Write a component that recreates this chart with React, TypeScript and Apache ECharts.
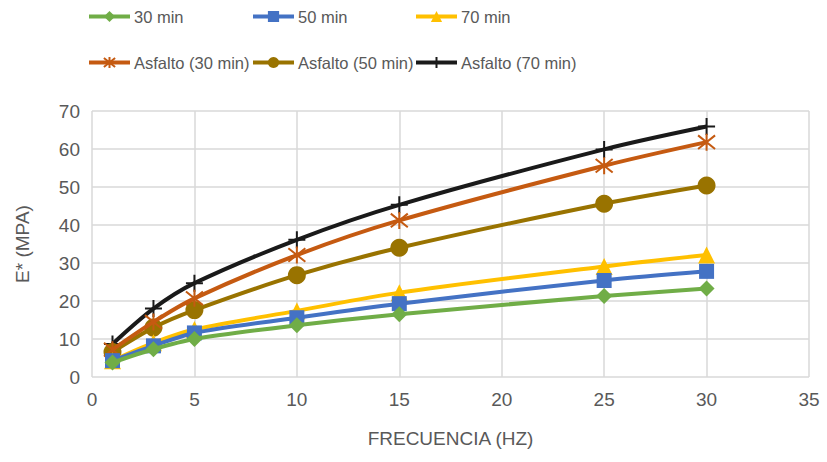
import React, { useEffect, useRef } from "react";
import * as echarts from "echarts";

const freq = [1, 3, 5, 10, 15, 25, 30];
const s30 = [3.8, 7.3, 10.0, 13.6, 16.5, 21.3, 23.3];
const s50 = [4.3, 8.2, 11.6, 15.6, 19.3, 25.4, 27.8];
const s70 = [4.3, 9.0, 12.5, 17.4, 22.2, 29.1, 32.1];
const a30 = [7.2, 14.5, 20.7, 32.1, 41.2, 55.6, 61.8];
const a50 = [6.6, 13.0, 17.6, 26.8, 34.0, 45.6, 50.4];
const a70 = [8.7, 18.0, 24.7, 36.1, 45.3, 59.9, 65.9];
const seriesNames = ["30 min", "50 min", "70 min", "Asfalto (30 min)", "Asfalto (50 min)", "Asfalto (70 min)"];
const colors = ["#70AD47", "#4472C4", "#FFC000", "#C55A11", "#997300", "#1a1a1a"];

const FONT = "Liberation Sans";

const ASTERISK = "path://M10,0L10,20M2,2L18,18M2,18L18,2";
const PLUS = "path://M10,0L10,20M0,10L20,10";

export default function App() {
  const ref = useRef<HTMLDivElement>(null);
  useEffect(() => {
    if (!ref.current) return;
    const chart = echarts.init(ref.current, undefined, { renderer: "svg" });
    const all = [s30, s50, s70, a30, a50, a70];
    const symbols = ["diamond", "rect", "triangle", ASTERISK, "circle", PLUS];
    const sizes = [16, 15, 17, 17, 18, 17];
    const series = all.map((vals, i) => {
      const stroked = i === 3 || i === 5;
      return {
        name: seriesNames[i],
        type: "line",
        data: freq.map((f, j) => [f, vals[j]]),
        smooth: 0.3,
        symbol: symbols[i],
        symbolSize: sizes[i],
        showSymbol: true,
        lineStyle: { color: colors[i], width: 4 },
        itemStyle: stroked
          ? { color: colors[i], borderColor: colors[i], borderWidth: 2 }
          : { color: colors[i], borderWidth: 0 },
        emphasis: { disabled: true },
        z: 10 - i,
      };
    });
    const lefts = [87, 251, 414];
    const tops = [8, 54];
    const legends = seriesNames.map((n, i) => ({
      left: lefts[i % 3],
      top: tops[Math.floor(i / 3)],
      itemWidth: 41,
      itemHeight: 14,
      itemGap: 0,
      padding: 0,
      data: [n],
      selectedMode: false,
      lineStyle: { width: 4 },
      textStyle: { fontFamily: FONT, fontSize: 16.5, color: "#595959", padding: [0, 0, 0, -1] },
    }));
    chart.setOption({
      animation: false,
      backgroundColor: "#ffffff",
      legend: legends,
      grid: { left: 92, right: 18, top: 111, bottom: 85, containLabel: false },
      xAxis: {
        type: "value",
        min: 0,
        max: 35,
        interval: 5,
        name: "FRECUENCIA (HZ)",
        nameLocation: "middle",
        nameGap: 52,
        nameTextStyle: { fontFamily: FONT, fontSize: 19, color: "#595959" },
        axisLine: { show: false },
        axisTick: { show: false },
        axisLabel: { fontFamily: FONT, fontSize: 19, color: "#595959", margin: 13 },
        splitLine: { show: true, lineStyle: { color: "#d9d9d9", width: 1.5 } },
      },
      yAxis: {
        type: "value",
        min: 0,
        max: 70,
        interval: 10,
        name: "E* (MPA)",
        nameLocation: "middle",
        nameGap: 60,
        nameTextStyle: { fontFamily: FONT, fontSize: 19, color: "#595959" },
        axisLine: { show: false },
        axisTick: { show: false },
        axisLabel: { fontFamily: FONT, fontSize: 19, color: "#595959", margin: 12 },
        splitLine: { show: true, lineStyle: { color: "#d9d9d9", width: 1.5 } },
      },
      series,
    });
    return () => chart.dispose();
  }, []);
  return <div ref={ref} style={{ width: 827, height: 462, position: "absolute", left: 0, top: 0 }} />;
}
